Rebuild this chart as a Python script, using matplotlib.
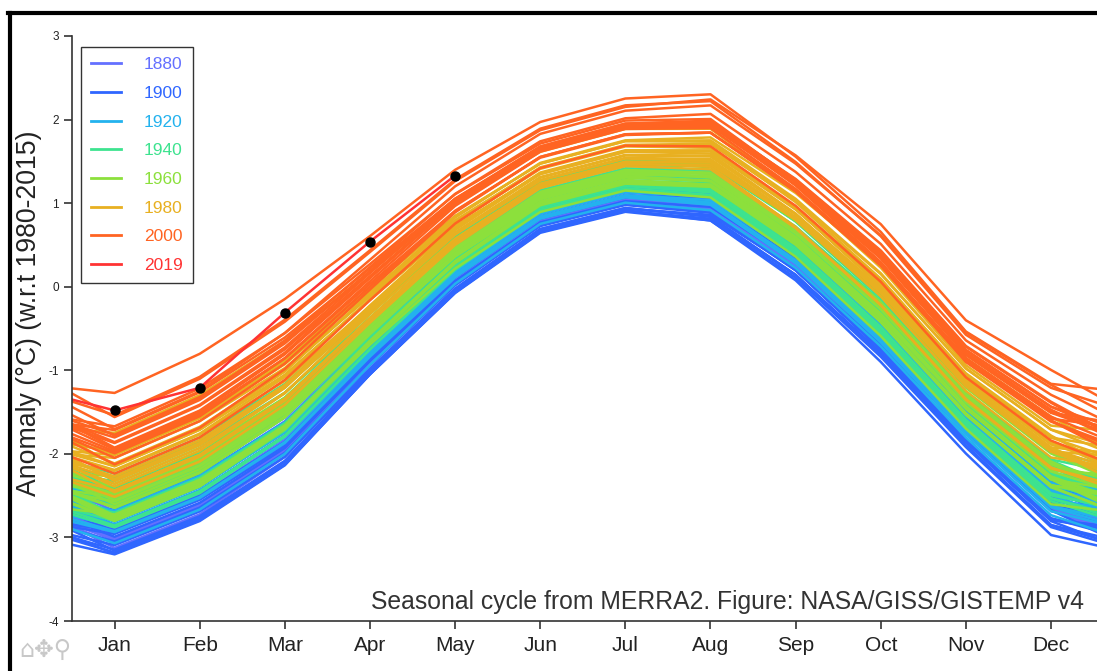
import numpy as np
import matplotlib.pyplot as plt
from matplotlib.lines import Line2D

plt.rcParams['font.family'] = ['Liberation Sans', 'DejaVu Sans']

# Month labels
months = ['Jan', 'Feb', 'Mar', 'Apr', 'May', 'Jun',
          'Jul', 'Aug', 'Sep', 'Oct', 'Nov', 'Dec']

# Seasonal cycle (w.r.t. 1980-2015 annual mean), degC
seasonal_base = [-2.05, -1.61, -0.94, -0.04, 0.84, 1.48,
                 1.75, 1.76, 1.06, 0.17, -0.97, -1.70]
# How much each month spreads out with the yearly anomaly (from band widths)
month_spread = [1.11, 1.15, 1.18, 1.03, 0.96, 0.89,
                0.91, 1.02, 0.99, 1.03, 0.96, 1.19]
# Weight of early-year / late-year departures in each month
early_weight = [1.0, 1.0, 0.8, 0.5, 0.2, 0, 0, 0, 0, 0, 0, 0]
late_weight = [0, 0, 0, 0, 0, 0, 0, 0.2, 0.5, 0.8, 1.0, 1.0]

# GISTEMP v4 annual mean anomalies (vs 1951-1980), 1880-2018
first_year = 1880
annual_anom = [
    -0.16, -0.08, -0.11, -0.17, -0.28, -0.33, -0.31, -0.36, -0.17, -0.10,
    -0.35, -0.22, -0.27, -0.31, -0.30, -0.22, -0.11, -0.11, -0.26, -0.17,
    -0.08, -0.15, -0.28, -0.37, -0.47, -0.26, -0.22, -0.39, -0.43, -0.48,
    -0.43, -0.44, -0.36, -0.34, -0.15, -0.14, -0.36, -0.46, -0.29, -0.27,
    -0.27, -0.19, -0.28, -0.26, -0.27, -0.22, -0.10, -0.22, -0.20, -0.36,
    -0.16, -0.09, -0.16, -0.29, -0.12, -0.20, -0.15, -0.03, 0.00, -0.02,
    0.13, 0.19, 0.07, 0.09, 0.20, 0.09, -0.07, -0.03, -0.11, -0.11,
    -0.17, -0.07, 0.01, 0.08, -0.13, -0.14, -0.19, 0.05, 0.06, 0.03,
    -0.03, 0.06, 0.03, 0.05, -0.20, -0.11, -0.06, -0.02, -0.08, 0.05,
    0.03, -0.08, 0.01, 0.16, -0.07, -0.01, -0.10, 0.18, 0.07, 0.16,
    0.26, 0.32, 0.14, 0.31, 0.16, 0.12, 0.18, 0.32, 0.39, 0.27,
    0.45, 0.40, 0.22, 0.23, 0.31, 0.45, 0.33, 0.46, 0.61, 0.38,
    0.39, 0.54, 0.63, 0.62, 0.53, 0.68, 0.64, 0.66, 0.54, 0.65,
    0.72, 0.61, 0.65, 0.68, 0.75, 0.90, 1.01, 0.92, 0.85,
]
# Early-year (Jan-Apr) departure from the annual value, 1880-2018 (estimated)
early_dep = [
    0.05, 0.05, 0.05, -0.05, -0.05, -0.10, -0.10, -0.10, -0.10, 0.15,
    -0.05, 0.00, -0.05, -0.20, -0.05, -0.10, 0.00, 0.10, -0.05, -0.05,
    0.12, 0.00, -0.05, 0.05, -0.10, 0.00, 0.12, -0.05, -0.10, -0.08,
    -0.05, -0.10, 0.05, -0.05, 0.00, 0.12, 0.00, -0.12, -0.05, 0.08,
    0.00, 0.05, -0.05, 0.00, 0.00, -0.05, 0.15, 0.00, 0.05, -0.10,
    0.00, 0.08, 0.05, -0.05, -0.05, 0.00, -0.08, -0.05, 0.05, -0.05,
    0.00, 0.10, 0.05, -0.05, 0.05, 0.00, 0.08, 0.00, 0.05, -0.05,
    -0.12, -0.08, 0.00, 0.05, 0.00, -0.08, -0.08, -0.10, 0.15, 0.05,
    -0.05, 0.00, 0.00, -0.05, 0.05, -0.05, 0.10, -0.05, -0.10, 0.10,
    0.05, -0.12, -0.05, 0.10, -0.15, 0.00, -0.10, 0.00, 0.00, -0.05,
    0.00, 0.05, -0.05, 0.15, -0.05, -0.08, 0.00, 0.05, 0.10, -0.12,
    0.05, 0.00, 0.10, 0.00, -0.10, 0.08, -0.10, -0.08, 0.12, -0.05,
    -0.10, -0.08, 0.08, 0.00, 0.00, 0.00, -0.08, 0.10, -0.15, -0.08,
    0.08, -0.10, -0.10, -0.05, -0.05, 0.00, 0.15, 0.00, -0.08,
]
# Late-year (Sep-Dec) departure from the annual value, 1880-2018 (estimated)
late_dep = [
    -0.05, -0.05, -0.05, 0.00, 0.00, 0.00, -0.05, 0.00, 0.10, -0.08,
    0.00, 0.05, -0.10, 0.00, -0.05, 0.00, 0.10, -0.05, -0.05, 0.08,
    0.00, -0.05, 0.05, -0.08, 0.00, 0.10, -0.05, -0.05, -0.08, -0.05,
    -0.08, 0.08, -0.10, 0.05, 0.08, 0.00, -0.10, -0.15, 0.10, -0.05,
    -0.05, 0.00, -0.05, 0.05, -0.05, 0.10, 0.00, 0.05, -0.05, -0.05,
    0.08, 0.00, 0.00, -0.08, 0.00, -0.05, 0.00, 0.05, -0.05, 0.10,
    0.10, 0.05, -0.05, 0.05, -0.05, 0.00, -0.05, 0.00, 0.00, -0.08,
    -0.10, 0.08, 0.00, 0.00, -0.08, -0.10, -0.05, 0.08, 0.00, -0.05,
    0.00, 0.00, 0.00, 0.08, -0.10, 0.08, -0.05, 0.00, 0.05, 0.05,
    -0.08, -0.05, 0.10, -0.12, -0.05, -0.10, 0.05, 0.05, 0.00, 0.05,
    0.00, 0.00, 0.12, -0.08, -0.10, -0.05, 0.05, 0.05, -0.12, 0.00,
    0.00, 0.05, -0.05, 0.00, 0.08, -0.08, 0.00, 0.12, -0.12, -0.08,
    -0.05, 0.00, 0.05, 0.00, 0.05, -0.05, 0.08, -0.10, 0.00, 0.08,
    -0.10, -0.08, 0.00, 0.00, 0.05, 0.15, -0.10, -0.05, 0.05,
]

# 2019 is partial: Dec 2018 then Jan-May 2019 (black dots)
y2019_x = [0, 1, 2, 3, 4, 5]
y2019_vals = [-1.22, -1.48, -1.21, -0.31, 0.54, 1.33]

legend_years = ['1880', '1900', '1920', '1940', '1960', '1980', '2000', '2019']
legend_colors = ['#6470ff', '#2f66ff', '#23b2ee', '#3de38f',
                 '#8ce03c', '#e8b021', '#ff6422', '#ff3333']

fig = plt.figure(figsize=(10.97, 6.71), dpi=100)
ax = fig.add_axes([72 / 1097, 50 / 671, 1 - 72 / 1097, (621 - 36) / 671])

years = np.arange(first_year, first_year + len(annual_anom))
anom = np.array(annual_anom)
base_mask = (years >= 1980) & (years <= 2015)
anom = anom - anom[base_mask].mean()

base = np.array(seasonal_base)
spread = np.array(month_spread)
w_e = np.array(early_weight)
w_l = np.array(late_weight)
xs = np.arange(0, 14)
for yr, a, e, l in zip(years, anom, early_dep, late_dep):
    vals = base + spread * (a + e * w_e + l * w_l)
    vals = np.concatenate([[vals[-1]], vals, [vals[0]]])
    col = legend_colors[(yr - first_year) // 20]
    ax.plot(xs, vals, color=col, lw=1.8, solid_joinstyle='round')

ax.plot(y2019_x, y2019_vals, color=legend_colors[-1], lw=1.8)
ax.plot(y2019_x[1:], y2019_vals[1:], 'o', color='black', ms=6.5, ls='none')

ax.set_xlim(0.5, 12.54)
ax.set_ylim(-4, 3)
ax.set_xticks(range(1, 13))
ax.set_xticklabels(months, fontsize=15)
ax.set_yticks(range(-4, 4))
ax.set_yticklabels([str(v) for v in range(-4, 4)], fontsize=8.5)
ax.tick_params(direction='out', length=6, width=1.2, color='#333333',
               labelcolor='#222222')
ax.tick_params(axis='x', pad=5)
for s in ['top', 'right']:
    ax.spines[s].set_visible(False)
for s in ['left', 'bottom']:
    ax.spines[s].set_color('#333333')
    ax.spines[s].set_linewidth(1.2)

ax.set_ylabel('Anomaly (°C) (w.r.t 1980-2015)', fontsize=19.2, color='#222222')
ax.yaxis.set_label_coords(-0.029, 0.526)

ax.text(0.987, 0.012, 'Seasonal cycle from MERRA2. Figure: NASA/GISS/GISTEMP v4',
        transform=ax.transAxes, ha='right', va='bottom', fontsize=17.8,
        color='#333333')

handles = [Line2D([], [], color=c, lw=2) for c in legend_colors]
leg = fig.legend(handles, legend_years, loc='upper left',
                 bbox_to_anchor=(81 / 1097, 1 - 47 / 671),
                 bbox_transform=fig.transFigure, borderaxespad=0,
                 fontsize=12.5, frameon=True, fancybox=False, framealpha=1,
                 edgecolor='#333333', handlelength=1.7, handletextpad=1.35,
                 labelspacing=0.78, borderpad=0.58)
leg.get_frame().set_linewidth(1.0)
for t, c in zip(leg.get_texts(), legend_colors):
    t.set_color(c)

# screenshot frame (top and left edges)
fig.add_artist(Line2D([8 / 1097, 1], [1 - 13 / 671, 1 - 13 / 671],
                      transform=fig.transFigure, color='black', lw=3))
fig.add_artist(Line2D([10 / 1097, 10 / 1097], [0, 1 - 13 / 671],
                      transform=fig.transFigure, color='black', lw=3))

# toolbar icons
fig.text(19 / 1097, 1 - 650 / 671, '\u2302\u2725\u26B2', fontsize=17,
         color='#c8c8c8', va='center', family='DejaVu Sans')

fig.savefig('out.png', dpi=100)
